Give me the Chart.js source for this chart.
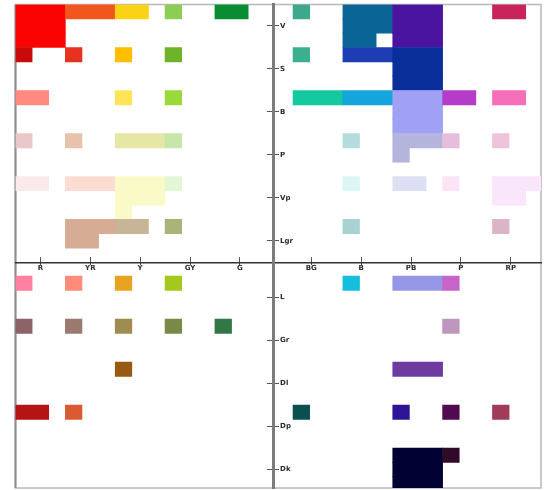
<!DOCTYPE html>
<html>
<head>
<meta charset="utf-8">
<script src="https://cdn.jsdelivr.net/npm/chart.js@4.4.1/dist/chart.umd.min.js"></script>
<style>
  html,body{margin:0;padding:0;background:#fff}
  canvas{display:block}
</style>
</head>
<body>
<canvas id="chart" width="544" height="490"></canvas>
<script>
// ===== Data =====
const huesLeft    = ['R','YR','Y','GY','G'];
const huesRight   = ['BG','B','PB','P','RP'];
const tonesTop    = ['V','S','B','P','Vp','Lgr'];
const tonesBottom = ['L','Gr','Dl','Dp','Dk'];

// [hue, sub column, columns, tone, sub row, rows, colour]
const cellsTopLeft = [
  ['R',0,3,'V',0,3,'#fc0303'],
  ['YR',0,3,'V',0,1,'#f2561c'],
  ['Y',0,2,'V',0,1,'#fcd214'],
  ['GY',0,1,'V',0,1,'#8ccd55'],
  ['G',0,2,'V',0,1,'#0a8c32'],
  ['R',0,1,'S',0,1,'#c80a0a'],
  ['YR',0,1,'S',0,1,'#e6321e'],
  ['Y',0,1,'S',0,1,'#ffbe00'],
  ['GY',0,1,'S',0,1,'#6eb428'],
  ['R',0,2,'B',0,1,'#ff8a80'],
  ['Y',0,1,'B',0,1,'#ffe45a'],
  ['GY',0,1,'B',0,1,'#9bd83c'],
  ['R',0,1,'P',0,1,'#e8c8c8'],
  ['YR',0,1,'P',0,1,'#e6c3aa'],
  ['Y',0,3,'P',0,1,'#e6e6a5'],
  ['GY',0,1,'P',0,1,'#c6e6aa'],
  ['R',0,2,'Vp',0,1,'#faeaea'],
  ['YR',0,3,'Vp',0,1,'#fadcd2'],
  ['Y',0,3,'Vp',0,2,'#fafac8'],
  ['Y',0,1,'Vp',2,1,'#fafac8'],
  ['GY',0,1,'Vp',0,1,'#e4f7d4'],
  ['YR',0,3,'Lgr',0,1,'#d7ac94'],
  ['YR',0,2,'Lgr',1,1,'#d7ac94'],
  ['Y',0,2,'Lgr',0,1,'#c8b496'],
  ['GY',0,1,'Lgr',0,1,'#aab478']
];
const cellsTopRight = [
  ['BG',0,1,'V',0,1,'#3ca88c'],
  ['B',0,3,'V',0,2,'#0a6496'],
  ['B',0,2,'V',2,1,'#0a6496'],
  ['PB',0,3,'V',0,3,'#4a14a0'],
  ['RP',0,2,'V',0,1,'#c8235a'],
  ['BG',0,1,'S',0,1,'#3cb08e'],
  ['B',0,3,'S',0,1,'#1e3cb4'],
  ['PB',0,3,'S',0,3,'#0a2e9a'],
  ['BG',0,3,'B',0,1,'#14c8a0'],
  ['B',0,3,'B',0,1,'#14a5dc'],
  ['PB',0,3,'B',0,3,'#a0a0f5'],
  ['P',0,2,'B',0,1,'#b43cc8'],
  ['RP',0,2,'B',0,1,'#f56eb9'],
  ['B',0,1,'P',0,1,'#b4dcdc'],
  ['PB',0,3,'P',0,1,'#b4b4dc'],
  ['PB',0,1,'P',1,1,'#b4b4dc'],
  ['P',0,1,'P',0,1,'#e6bedc'],
  ['RP',0,1,'P',0,1,'#f0c3dc'],
  ['B',0,1,'Vp',0,1,'#dcf5f5'],
  ['PB',0,2,'Vp',0,1,'#dce0f2'],
  ['P',0,1,'Vp',0,1,'#fae4f5'],
  ['RP',0,3,'Vp',0,1,'#fae6fa'],
  ['RP',0,2,'Vp',1,1,'#fae6fa'],
  ['B',0,1,'Lgr',0,1,'#a8d2d2'],
  ['RP',0,1,'Lgr',0,1,'#dcb4c8']
];
const cellsBottomLeft = [
  ['R',0,1,'L',0,1,'#ff80a0'],
  ['YR',0,1,'L',0,1,'#ff8c78'],
  ['Y',0,1,'L',0,1,'#e8a420'],
  ['GY',0,1,'L',0,1,'#a5c81e'],
  ['R',0,1,'Gr',0,1,'#8c6468'],
  ['YR',0,1,'Gr',0,1,'#9a7a6e'],
  ['Y',0,1,'Gr',0,1,'#a08c50'],
  ['GY',0,1,'Gr',0,1,'#788a46'],
  ['G',0,1,'Gr',0,1,'#327846'],
  ['Y',0,1,'Dl',0,1,'#965a12'],
  ['R',0,2,'Dp',0,1,'#b41414'],
  ['YR',0,1,'Dp',0,1,'#dc5a32']
];
const cellsBottomRight = [
  ['B',0,1,'L',0,1,'#14bedc'],
  ['PB',0,3,'L',0,1,'#9696e6'],
  ['P',0,1,'L',0,1,'#c864c8'],
  ['P',0,1,'Gr',0,1,'#be96be'],
  ['PB',0,3,'Dl',0,1,'#6e3ca0'],
  ['BG',0,1,'Dp',0,1,'#0a5050'],
  ['PB',0,1,'Dp',0,1,'#2d1496'],
  ['P',0,1,'Dp',0,1,'#500a50'],
  ['RP',0,1,'Dp',0,1,'#a03c5a'],
  ['PB',0,3,'Dk',0,3,'#000032'],
  ['P',0,1,'Dk',0,1,'#300a28']
];

// ===== Grid helpers =====
const RIGHT0 = 16.7;     // first column of right panel (column units)
const BOTTOM0 = 18.95;   // first row of lower panel (row units)
const AXIS_X = 15.5;     // vertical centre line
const AXIS_Y = 18;       // horizontal centre line

function colOf(h, c){
  const i = huesLeft.indexOf(h);
  return i >= 0 ? i*3 + c : RIGHT0 + huesRight.indexOf(h)*3 + c;
}
function rowOf(t, r){
  const i = tonesTop.indexOf(t);
  return i >= 0 ? i*3 + r : BOTTOM0 + tonesBottom.indexOf(t)*3 + r;
}

const bars = [], colours = [];
[...cellsTopLeft, ...cellsTopRight, ...cellsBottomLeft, ...cellsBottomRight].forEach(([h,c,n,t,r,rows,col])=>{
  const x0 = colOf(h, c), y0 = rowOf(t, r);
  for (let k = 0; k < rows; k++){
    bars.push({ x:[x0, x0+n], y: y0 + k + 0.5 });
    colours.push(col);
  }
});

const hueLabels  = [...huesLeft, ...huesRight];
const hueTicks   = [...huesLeft.map((_,i)=>i*3+1.5), ...huesRight.map((_,i)=>RIGHT0+i*3+1.1)];
const toneLabels = [...tonesTop, ...tonesBottom];
const toneTicks  = [...tonesTop.map((_,i)=>i*3+1.5), ...tonesBottom.map((_,i)=>BOTTOM0+i*3+1.5)];

// ===== Plugin: frame + tone labels =====
const frameAndTones = {
  id: 'frameAndTones',
  beforeDraw(chart){
    const {ctx, chartArea:a} = chart;
    ctx.save();
    ctx.strokeStyle = '#b8b8b8'; ctx.lineWidth = 1.5;
    ctx.strokeRect(a.left, a.top, a.right - a.left, a.bottom - a.top);
    ctx.strokeStyle = '#8c8c8c'; ctx.lineWidth = 2;
    ctx.beginPath(); ctx.moveTo(a.left, a.top); ctx.lineTo(a.left, a.bottom); ctx.stroke();
    ctx.restore();
  },
  afterDraw(chart){
    const {ctx, scales} = chart;
    const x = scales.x.getPixelForValue(AXIS_X) + 7;
    ctx.save();
    ctx.font = 'bold 7px "DejaVu Sans"';
    ctx.fillStyle = '#2a2a2a';
    ctx.textAlign = 'left'; ctx.textBaseline = 'middle';
    toneTicks.forEach((v,i)=> ctx.fillText(toneLabels[i], x, scales.y.getPixelForValue(v)));
    ctx.restore();
  }
};

const setTicks = vals => s => { s.ticks = vals.map(v=>({value:v})); };
const XMAX = 31.62, YMAX = 33.74;

new Chart(document.getElementById('chart'), {
  type: 'bar',
  data: {
    datasets: [{
      data: bars,
      backgroundColor: colours,
      borderWidth: 0,
      categoryPercentage: 1,
      barPercentage: 1,
      xAxisID: 'x', yAxisID: 'y'
    }]
  },
  options: {
    indexAxis: 'y',
    responsive: false,
    animation: false,
    events: [],
    layout: { padding: { left: 15.5, top: 4.5, right: 3, bottom: 2 } },
    plugins: { legend: { display: false }, tooltip: { enabled: false } },
    scales: {
      x: {
        type: 'linear', axis: 'x', min: 0, max: XMAX, offset: false,
        position: { y: AXIS_Y },
        grid: { display: false, offset: false, tickLength: 0 },
        border: { color: '#333', width: 1.5 },
        afterBuildTicks: setTicks(hueTicks),
        ticks: {
          padding: 2, autoSkip: false, maxRotation: 0,
          color: '#2a2a2a', font: { family: 'DejaVu Sans', size: 7, weight: 'bold' },
          callback: (v, i) => hueLabels[i]
        }
      },
      xt: {
        type: 'linear', axis: 'x', min: 0, max: XMAX, offset: false,
        position: { y: 17.63 },
        grid: { drawOnChartArea: false, offset: false, tickLength: 8, color: '#555', lineWidth: 1 },
        border: { display: false },
        afterBuildTicks: setTicks(hueTicks),
        ticks: { display: false }
      },
      y: {
        type: 'linear', axis: 'y', min: 0, max: YMAX, reverse: true, offset: false,
        position: { x: AXIS_X },
        grid: { display: false, offset: false },
        border: { color: '#7c7c7c', width: 3 },
        afterBuildTicks: setTicks(toneTicks),
        ticks: { display: false }
      },
      yt: {
        type: 'linear', axis: 'y', min: 0, max: YMAX, reverse: true, offset: false,
        position: { x: 15.86 },
        grid: { drawOnChartArea: false, offset: false, tickLength: 12, color: '#555', lineWidth: 1 },
        border: { display: false },
        afterBuildTicks: setTicks(toneTicks),
        ticks: { display: false }
      }
    }
  },
  plugins: [frameAndTones]
});
</script>
</body>
</html>
